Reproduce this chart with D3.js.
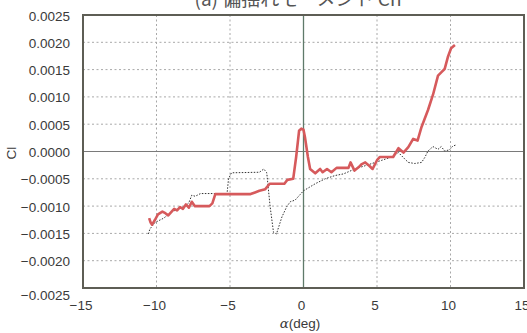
<!DOCTYPE html>
<html lang="ja">
<head>
<meta charset="UTF-8">
<title>Cl - alpha</title>
<script src="https://d3js.org/d3.v7.min.js"></script>
<style>
    body { margin: 0; background: #fff; }
    svg { display: block; }
    .tick-label { font-family: "Liberation Sans", Arial, sans-serif; font-size: 13.5px; fill: #3a3a3a; }
    .grid { stroke: #a8a8a8; stroke-width: 1; stroke-dasharray: 2,2.5; }
</style>
</head>
<body>
<div id="chart"></div>
<script>
    // alpha (deg) vs Cl, two runs
    const xTicks = [-15, -10, -5, 0, 5, 10, 15];
    const yTicks = [0.0025, 0.0020, 0.0015, 0.0010, 0.0005, 0.0000, -0.0005, -0.0010, -0.0015, -0.0020, -0.0025];

    // red solid series
    const redAlpha = [-10.5, -10.4, -10.3, -10.1, -9.9, -9.6, -9.4, -9.2, -9.0, -8.8, -8.6, -8.4, -8.2, -8.0, -7.8, -7.6, -7.4,
        -6.4, -6.2, -6.0, -3.6, -3.3, -3.0, -2.6, -2.3, -1.3, -1.1, -0.7, -0.5, -0.3, -0.15, 0.0, 0.1, 0.3, 0.45,
        0.8, 1.13, 1.3, 1.6, 1.9, 2.25, 3.06, 3.2, 3.47, 3.74, 3.97, 4.2, 4.47, 4.7, 5.0, 5.2, 5.8, 6.1, 6.46, 6.8,
        7.13, 7.46, 7.76, 8.03, 8.47, 8.81, 9.15, 9.37, 9.6, 9.82, 10.04, 10.3];
    const redCl = [-1.22, -1.30, -1.34, -1.25, -1.15, -1.10, -1.13, -1.17, -1.11, -1.05, -1.08, -1.02, -1.05, -0.97, -1.03, -0.92, -1.00,
        -1.00, -0.95, -0.78, -0.78, -0.75, -0.72, -0.69, -0.59, -0.59, -0.52, -0.50, -0.10, 0.38, 0.42, 0.40, 0.26, -0.10, -0.32,
        -0.40, -0.32, -0.38, -0.32, -0.38, -0.30, -0.30, -0.20, -0.35, -0.29, -0.23, -0.20, -0.26, -0.32, -0.16, -0.10, -0.10, -0.10, 0.06, -0.02,
        0.08, 0.23, 0.20, 0.45, 0.76, 1.04, 1.39, 1.45, 1.51, 1.73, 1.89, 1.95];

    // black dotted series
    const dotAlpha = [-10.55, -10.45, -10.1, -9.5, -9.0, -8.5, -8.05, -7.8, -7.6, -7.37, -7.0, -5.2, -5.1, -4.9, -3.0, -2.7, -2.5,
        -2.27, -2.04, -1.84, -1.47, -1.14, -0.9, -0.57, 0.0, 0.8, 1.47, 2.15, 2.72, 3.5, 4.2, 4.88, 5.56, 6.0, 6.46,
        6.9, 7.13, 7.57, 8.03, 8.25, 8.47, 8.81, 9.15, 9.37, 9.6, 9.93, 10.16, 10.38];
    const dotCl = [-1.51, -1.42, -1.30, -1.22, -1.11, -1.05, -1.00, -0.94, -0.80, -0.82, -0.77, -0.77, -0.50, -0.39, -0.38, -0.32, -0.39,
        -1.01, -1.48, -1.51, -1.20, -1.01, -0.92, -0.89, -0.72, -0.59, -0.50, -0.44, -0.41, -0.32, -0.26, -0.20, -0.14, -0.10, -0.02,
        -0.14, -0.20, -0.22, -0.20, -0.11, 0.01, 0.09, 0.04, 0.09, 0.01, 0.03, 0.10, 0.12];

    const width = 527, height = 333;
    const margin = { top: 15, right: 3, bottom: 45, left: 83 };

    const svg = d3.select("#chart").append("svg")
        .attr("width", width)
        .attr("height", height);

    const x = d3.scaleLinear().domain([-15, 15]).range([margin.left, width - margin.right]);
    const y = d3.scaleLinear().domain([-0.0025, 0.0025]).range([height - margin.bottom, margin.top]);

    // caption of the figure above, cut off at the top edge
    svg.append("text")
        .attr("x", 298)
        .attr("y", 6)
        .attr("text-anchor", "middle")
        .attr("font-family", "'Noto Sans CJK JP', 'DejaVu Serif', serif")
        .attr("font-size", 19)
        .attr("fill", "#555")
        .text("(a)  偏揺れモーメント Cn");

    // grid
    svg.append("g").selectAll("line")
        .data(yTicks.filter(d => Math.abs(d) > 1e-9 && Math.abs(d) < 0.0025))
        .join("line")
        .attr("class", "grid")
        .attr("x1", x(-15)).attr("x2", x(15))
        .attr("y1", d => y(d)).attr("y2", d => y(d));

    svg.append("g").selectAll("line")
        .data(xTicks.filter(d => d !== 0 && Math.abs(d) < 15))
        .join("line")
        .attr("class", "grid")
        .attr("y1", y(0.0025)).attr("y2", y(-0.0025))
        .attr("x1", d => x(d)).attr("x2", d => x(d));

    // zero lines
    svg.append("line")
        .attr("x1", x(-15)).attr("x2", x(15))
        .attr("y1", y(0)).attr("y2", y(0))
        .attr("stroke", "#7a7a7a").attr("stroke-width", 1.2);
    svg.append("line")
        .attr("x1", x(0)).attr("x2", x(0))
        .attr("y1", y(0.0025)).attr("y2", y(-0.0025))
        .attr("stroke", "#5f7a6a").attr("stroke-width", 1.3);

    // frame
    svg.append("rect")
        .attr("x", x(-15)).attr("y", y(0.0025))
        .attr("width", x(15) - x(-15)).attr("height", y(-0.0025) - y(0.0025))
        .attr("fill", "none")
        .attr("stroke", "#5e5e55").attr("stroke-width", 2);

    const line = d3.line()
        .x(d => x(d[0]))
        .y(d => y(d[1] / 1000));

    svg.append("path")
        .datum(dotAlpha.map((a, i) => [a, dotCl[i]]))
        .attr("d", line)
        .attr("fill", "none")
        .attr("stroke", "#333")
        .attr("stroke-width", 1)
        .attr("stroke-dasharray", "1.5,1.5");

    svg.append("path")
        .datum(redAlpha.map((a, i) => [a, redCl[i]]))
        .attr("d", line)
        .attr("fill", "none")
        .attr("stroke", "#d65a5c")
        .attr("stroke-width", 2.6)
        .attr("stroke-linejoin", "round");

    // y tick labels
    const fmtY = d => (d < 0 ? "\u2212" : "") + Math.abs(d).toFixed(4);
    svg.append("g").selectAll("text")
        .data(yTicks)
        .join("text")
        .attr("class", "tick-label")
        .attr("x", 70)
        .attr("y", d => y(d) + (d === -0.0025 ? 8 : 2))
        .attr("text-anchor", "end")
        .attr("dominant-baseline", "middle")
        .text(fmtY);

    // x tick labels (the 15 at the right edge is cut, as in the scan)
    svg.append("g").selectAll("text")
        .data(xTicks)
        .join("text")
        .attr("class", "tick-label")
        .attr("x", d => x(d) - 2)
        .attr("y", 310)
        .attr("text-anchor", "middle")
        .text(d => (d < 0 ? "\u2212" : "") + Math.abs(d));

    // axis titles
    const xt = svg.append("text")
        .attr("x", 300)
        .attr("y", 328)
        .attr("text-anchor", "middle")
        .attr("font-size", 13.5)
        .attr("fill", "#3a3a3a");
    xt.append("tspan").attr("font-family", "'DejaVu Serif', serif").attr("font-style", "italic").text("α");
    xt.append("tspan").attr("font-family", "'Liberation Sans', Arial, sans-serif").text("(deg)");

    svg.append("text")
        .attr("transform", "translate(16,153) rotate(-90)")
        .attr("text-anchor", "middle")
        .attr("font-family", "'Liberation Sans', Arial, sans-serif")
        .attr("font-size", 13.5)
        .attr("fill", "#3a3a3a")
        .text("Cl");
</script>
</body>
</html>
